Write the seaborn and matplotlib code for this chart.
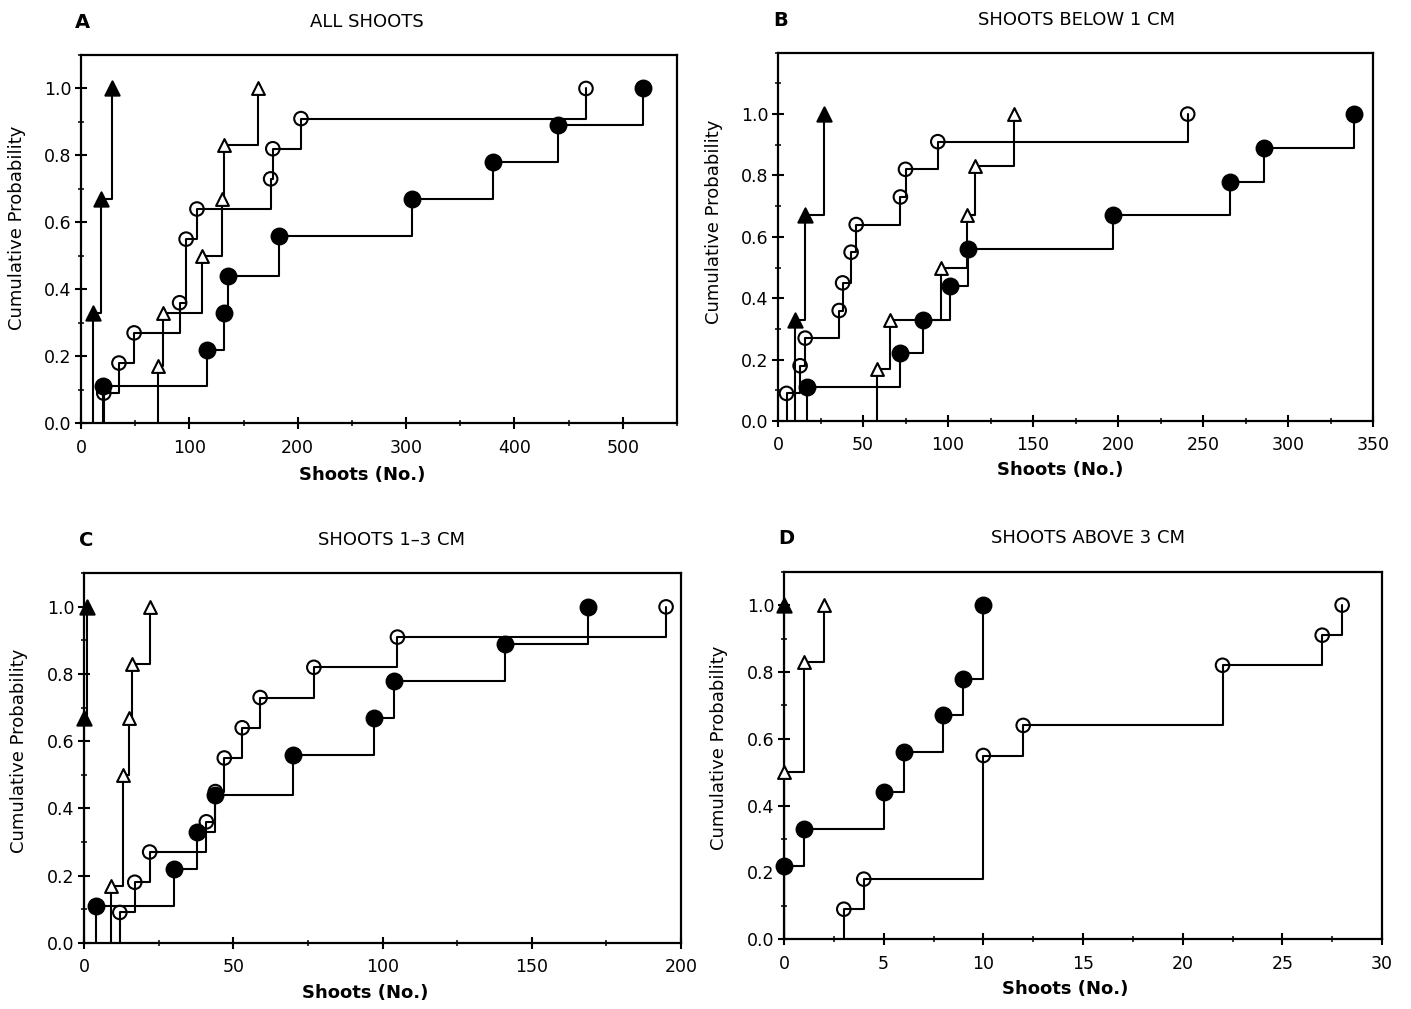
import numpy as np
import pandas as pd
import matplotlib
matplotlib.use("Agg")
import matplotlib.pyplot as plt
import seaborn as sns
from matplotlib.ticker import MultipleLocator, FormatStrFormatter, FixedLocator

# ---------------- data (shoot counts and cumulative probabilities) ----------------
# Panel A: all shoots
a_ftri_x = [11, 18, 29]
a_ftri_y = [0.33, 0.67, 1.00]
a_otri_x = [71, 76, 112, 130, 132, 163]
a_otri_y = [0.17, 0.33, 0.50, 0.67, 0.83, 1.00]
a_ocir_x = [21, 35, 49, 91, 97, 107, 175, 177, 203, 466]
a_ocir_y = [0.09, 0.18, 0.27, 0.36, 0.55, 0.64, 0.73, 0.82, 0.91, 1.00]
a_fcir_x = [20, 116, 132, 136, 183, 305, 380, 440, 519]
a_fcir_y = [0.11, 0.22, 0.33, 0.44, 0.56, 0.67, 0.78, 0.89, 1.00]

# Panel B: shoots below 1 cm
b_ftri_x = [10, 16, 27]
b_ftri_y = [0.33, 0.67, 1.00]
b_otri_x = [58, 66, 96, 111, 116, 139]
b_otri_y = [0.17, 0.33, 0.50, 0.67, 0.83, 1.00]
b_ocir_x = [5, 13, 16, 36, 38, 43, 46, 72, 75, 94, 241]
b_ocir_y = [0.09, 0.18, 0.27, 0.36, 0.45, 0.55, 0.64, 0.73, 0.82, 0.91, 1.00]
b_fcir_x = [17, 72, 85, 101, 112, 197, 266, 286, 339]
b_fcir_y = [0.11, 0.22, 0.33, 0.44, 0.56, 0.67, 0.78, 0.89, 1.00]

# Panel C: shoots 1-3 cm
c_ftri_x = [0, 1]
c_ftri_y = [0.67, 1.00]
c_otri_x = [9, 13, 15, 16, 22]
c_otri_y = [0.17, 0.50, 0.67, 0.83, 1.00]
c_ocir_x = [12, 17, 22, 41, 44, 47, 53, 59, 77, 105, 195]
c_ocir_y = [0.09, 0.18, 0.27, 0.36, 0.45, 0.55, 0.64, 0.73, 0.82, 0.91, 1.00]
c_fcir_x = [4, 30, 38, 44, 70, 97, 104, 141, 169]
c_fcir_y = [0.11, 0.22, 0.33, 0.44, 0.56, 0.67, 0.78, 0.89, 1.00]

# Panel D: shoots above 3 cm
d_ftri_x = [0]
d_ftri_y = [1.00]
d_otri_x = [0, 1, 2]
d_otri_y = [0.50, 0.83, 1.00]
d_ocir_x = [3, 4, 10, 12, 22, 27, 28]
d_ocir_y = [0.09, 0.18, 0.55, 0.64, 0.82, 0.91, 1.00]
d_fcir_x = [0, 1, 5, 6, 8, 9, 10]
d_fcir_y = [0.22, 0.33, 0.44, 0.56, 0.67, 0.78, 1.00]

panel_letters = ["A", "B", "C", "D"]
panel_titles = ["ALL SHOOTS", "SHOOTS BELOW 1 CM", "SHOOTS 1\u20133 CM", "SHOOTS ABOVE 3 CM"]
x_label = "Shoots (No.)"
y_label = "Cumulative Probability"

# ---------------- styling ----------------
sns.set_theme(style="white")
plt.rcParams["font.family"] = ["DejaVu Sans"]

W, H = 1411, 1009
fig = plt.figure(figsize=(W / 100, H / 100), dpi=100)
fig.patch.set_facecolor("white")

def px_rect(l, r, t, b):
    return [l / W, 1 - b / H, (r - l) / W, (b - t) / H]

rects = [px_rect(81, 677, 55, 423.3), px_rect(778, 1373, 52.7, 421),
         px_rect(84, 681, 573.3, 942.7), px_rect(784, 1382, 571.7, 939.3)]

panels = [
    [(a_ftri_x, a_ftri_y), (a_otri_x, a_otri_y), (a_ocir_x, a_ocir_y), (a_fcir_x, a_fcir_y)],
    [(b_ftri_x, b_ftri_y), (b_otri_x, b_otri_y), (b_ocir_x, b_ocir_y), (b_fcir_x, b_fcir_y)],
    [(c_ftri_x, c_ftri_y), (c_otri_x, c_otri_y), (c_ocir_x, c_ocir_y), (c_fcir_x, c_fcir_y)],
    [(d_ftri_x, d_ftri_y), (d_otri_x, d_otri_y), (d_ocir_x, d_ocir_y), (d_fcir_x, d_fcir_y)],
]
styles = [
    dict(marker="^", fc="black", s=105),
    dict(marker="^", fc="white", s=85),
    dict(marker="o", fc="none", s=95),
    dict(marker="o", fc="black", s=130),
]
xlims = [(0, 550), (0, 350), (0, 200), (0, 30)]
ylims = [(0, 1.1), (0, 1.2), (0, 1.1), (0, 1.1)]
xmajor = [100, 50, 50, 5]
ylab_coords = [(-0.092, 0.53), (-0.092, 0.54), (-0.094, 0.52), (-0.094, 0.52)]
xlab_coords = [(0.471, -0.115), (0.474, -0.108), (0.471, -0.113), (0.47, -0.112)]
letter_pos = [(82, 22), (781, 20), (86, 540), (786, 538)]
title_pos = [(367, 22), (1076, 20), (392, 540), (1088, 538)]

LW = 1.5
for i, rect in enumerate(rects):
    ax = fig.add_axes(rect)
    for (xs, ys), st in zip(panels[i], styles):
        lx = np.r_[xs[0], xs]
        ly = np.r_[0.0, ys]
        df = pd.DataFrame({"x": lx, "y": ly})
        sns.lineplot(data=df, x="x", y="y", ax=ax, color="black", lw=LW,
                     drawstyle="steps-post", estimator=None, sort=False, zorder=2)
        mdf = pd.DataFrame({"x": xs, "y": ys})
        sns.scatterplot(data=mdf, x="x", y="y", ax=ax, marker=st["marker"], s=st["s"],
                        facecolor=st["fc"], edgecolor="black", linewidth=1.5,
                        zorder=3, clip_on=False)
    ax.set_xlim(*xlims[i])
    ax.set_ylim(*ylims[i])
    ax.xaxis.set_major_locator(MultipleLocator(xmajor[i]))
    ax.xaxis.set_minor_locator(MultipleLocator(xmajor[i] / 2))
    ax.yaxis.set_major_locator(FixedLocator([0, 0.2, 0.4, 0.6, 0.8, 1.0]))
    ax.yaxis.set_minor_locator(MultipleLocator(0.1))
    ax.yaxis.set_major_formatter(FormatStrFormatter("%.1f"))
    ax.tick_params(axis="both", which="major", direction="inout", length=8, width=1.5,
                   labelsize=12.5, colors="black", left=True, bottom=True)
    ax.tick_params(axis="both", which="minor", direction="inout", length=5, width=1.3,
                   left=True, bottom=True)
    ax.tick_params(axis="y", which="major", pad=3)
    ax.tick_params(axis="x", which="major", pad=7)
    for sp in ax.spines.values():
        sp.set_visible(True)
        sp.set_color("black")
        sp.set_linewidth(1.6)
    ax.set_xlabel(x_label, fontsize=13, fontweight="bold", color="black")
    ax.set_ylabel(y_label, fontsize=13, color="black")
    ax.yaxis.set_label_coords(*ylab_coords[i])
    ax.xaxis.set_label_coords(*xlab_coords[i])
    ax.grid(False)
    lx_, ly_ = letter_pos[i]
    fig.text(lx_ / W, 1 - ly_ / H, panel_letters[i], fontsize=14, fontweight="bold",
             ha="center", va="center", color="black")
    tx, ty = title_pos[i]
    fig.text(tx / W, 1 - ty / H, panel_titles[i], fontsize=13, ha="center", va="center",
             color="black")

fig.savefig("out.png", dpi=100, facecolor="white")
